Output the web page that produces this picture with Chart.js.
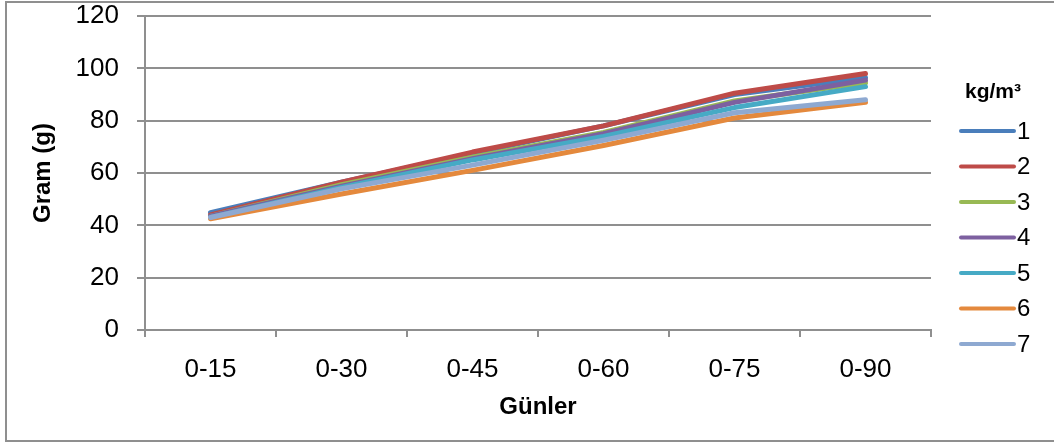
<!DOCTYPE html>
<html>
<head>
<meta charset="utf-8">
<script src="https://cdn.jsdelivr.net/npm/chart.js@4/dist/chart.umd.min.js"></script>
<style>
  html, body { margin: 0; padding: 0; background: #fff; }
</style>
</head>
<body>
<canvas id="gramChart" width="1054" height="443"></canvas>
<script>
// ---------------------------
// データ
// ---------------------------
const DAYS = ["0-15", "0-30", "0-45", "0-60", "0-75", "0-90"];
const DOSES = ["1", "2", "3", "4", "5", "6", "7"];
const Y_TICKS = [0, 20, 40, 60, 80, 100, 120];

const GRAM_1 = [44.8, 56.5, 67.5, 78, 90, 96.5];
const GRAM_2 = [44, 56.5, 68, 78, 90.5, 98];
const GRAM_3 = [43.5, 55.5, 66, 75.5, 87.5, 94.5];
const GRAM_4 = [43.5, 55, 65.5, 75, 87, 95.5];
const GRAM_5 = [43, 54.5, 65, 74, 85, 93];
const GRAM_6 = [42.5, 52, 61, 70.5, 81, 87];
const GRAM_7 = [43, 54, 63, 72.5, 83, 88];
const SERIES = [GRAM_1, GRAM_2, GRAM_3, GRAM_4, GRAM_5, GRAM_6, GRAM_7];

const COLORS = ["#4A7EBB", "#BE4B48", "#98B954", "#7D60A0", "#46AAC5", "#E4893D", "#8EA9D1"];
const GRID = "#8f8f8f";
const FONT = '"Liberation Sans", Arial, sans-serif';

Chart.defaults.font.family = FONT;
Chart.defaults.color = "#000";

// ---------------------------
// プラグイン
// ---------------------------

// 背景と外枠
const frame = {
  id: "frame",
  beforeDraw(chart) {
    const ctx = chart.ctx;
    ctx.save();
    ctx.fillStyle = "#fff";
    ctx.fillRect(0, 0, chart.width, chart.height);
    ctx.strokeStyle = GRID;
    ctx.lineWidth = 2;
    ctx.strokeRect(6, 2, chart.width + 20, 439);
    ctx.restore();
  }
};

// 右側の凡例（タイトル付き）
const sideLegend = {
  id: "sideLegend",
  afterDraw(chart) {
    const ctx = chart.ctx;
    ctx.save();
    ctx.fillStyle = "#000";
    ctx.font = `bold 21px ${FONT}`;
    ctx.textAlign = "center";
    ctx.textBaseline = "middle";
    ctx.fillText("kg/m³", 993, 92);

    ctx.font = `24px ${FONT}`;
    ctx.textAlign = "left";
    chart.data.datasets.forEach((ds, i) => {
      const y = 131 + i * 35.5;
      ctx.strokeStyle = ds.borderColor;
      ctx.lineWidth = 4;
      ctx.lineCap = "round";
      ctx.beginPath();
      ctx.moveTo(961, y);
      ctx.lineTo(1014, y);
      ctx.stroke();
      ctx.fillStyle = "#000";
      ctx.fillText(ds.label, 1017, y + 1);
    });
    ctx.restore();
  }
};

// ---------------------------
// グラフ
// ---------------------------
const ctx = document.getElementById("gramChart").getContext("2d");
new Chart(ctx, {
  type: "line",
  data: {
    labels: DAYS,
    datasets: SERIES.map((values, i) => ({
      label: DOSES[i],
      data: values,
      borderColor: COLORS[i],
      backgroundColor: COLORS[i],
      borderWidth: 5,
      borderCapStyle: "round",
      borderJoinStyle: "round",
      pointRadius: 0,
      tension: 0,
      order: SERIES.length - i
    }))
  },
  options: {
    responsive: false,
    animation: false,
    devicePixelRatio: 1,
    layout: { padding: { left: 0, top: 0, right: 123, bottom: 0 } },
    plugins: {
      legend: { display: false },
      tooltip: { enabled: false }
    },
    scales: {
      x: {
        type: "category",
        offset: true,
        grid: { offset: true, drawOnChartArea: false, drawTicks: true, tickLength: 7, color: GRID, lineWidth: 2 },
        border: { display: true, color: GRID, width: 2 },
        ticks: { font: { size: 26 }, padding: 17, color: "#000" },
        title: { display: true, text: "Günler", font: { size: 24, weight: "bold" }, padding: { top: 0, bottom: 21 }, color: "#000" },
        afterFit(scale) { scale.height = 113; }
      },
      y: {
        min: Y_TICKS[0],
        max: Y_TICKS[Y_TICKS.length - 1],
        afterBuildTicks(scale) { scale.ticks = Y_TICKS.map(v => ({ value: v })); },
        grid: { color: GRID, lineWidth: 2, tickLength: 8 },
        border: { display: true, color: GRID, width: 2 },
        ticks: { font: { size: 26 }, padding: 18, color: "#000" },
        title: { display: true, text: "Gram (g)", font: { size: 24, weight: "bold" }, padding: { top: 29, bottom: 0 }, color: "#000" },
        afterFit(scale) {
          scale.width = 145;
          scale.paddingTop = 16;
          scale.paddingBottom = 0;
        }
      }
    }
  },
  plugins: [frame, sideLegend]
});
</script>
</body>
</html>
